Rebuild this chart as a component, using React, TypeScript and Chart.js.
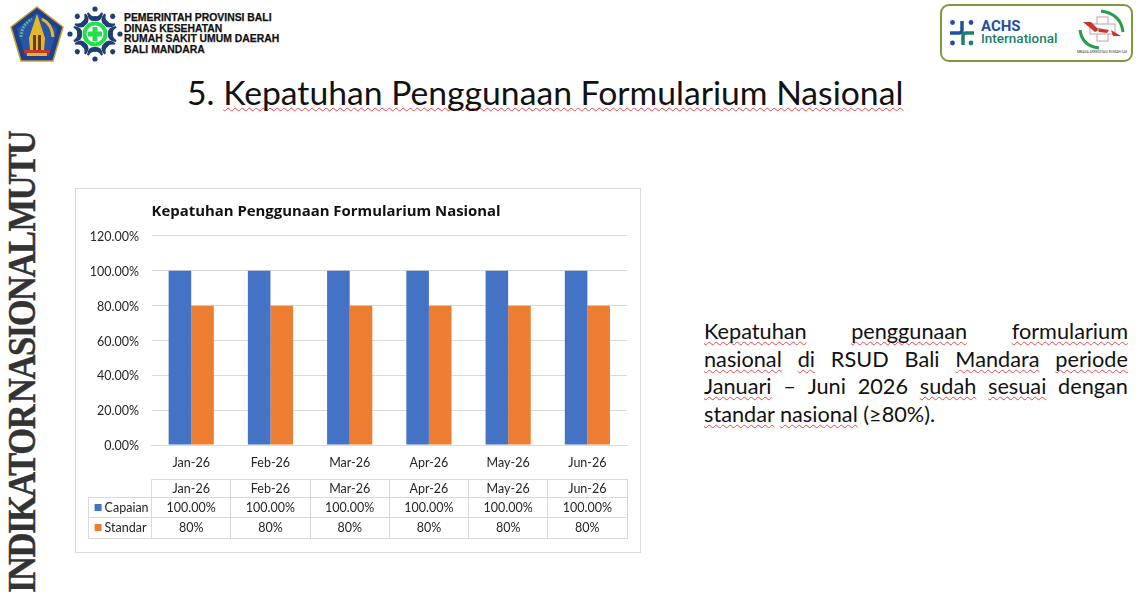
import React, { useEffect, useRef } from "react";
import { Chart, registerables } from "chart.js";

Chart.register(...registerables);

const categories = ["Jan-26", "Feb-26", "Mar-26", "Apr-26", "May-26", "Jun-26"];
const capaian = [100, 100, 100, 100, 100, 100];
const standar = [80, 80, 80, 80, 80, 80];
const capaianLabels = ["100.00%", "100.00%", "100.00%", "100.00%", "100.00%", "100.00%"];
const standarLabels = ["80%", "80%", "80%", "80%", "80%", "80%"];
const chartTitle = "Kepatuhan Penggunaan Formularium Nasional";
const slideTitle = "Kepatuhan Penggunaan Formularium Nasional";
const headerLines = ["PEMERINTAH PROVINSI BALI", "DINAS KESEHATAN", "RUMAH SAKIT UMUM DAERAH", "BALI MANDARA"];

const BLUE = "#4472C4";
const ORANGE = "#ED7D31";
const GRID = "#D9D9D9";
const TEXT = "#262626";
const FONT = "Lato, Carlito, sans-serif";

const dataTablePlugin = {
  id: "dataTable",
  afterDraw(chart: any) {
    const { ctx, chartArea, scales } = chart;
    const x = scales.x;
    const base = chartArea.bottom;
    const rows = [base + 34, base + 52, base + 72, base + 93];
    const labelLeft = chartArea.left - 63;
    const step = x.getPixelForTick(1) - x.getPixelForTick(0);
    const colEdges = categories.map((_, i) => x.getPixelForTick(i) - step / 2);
    colEdges.push(x.getPixelForTick(categories.length - 1) + step / 2);
    ctx.save();
    ctx.strokeStyle = GRID;
    ctx.lineWidth = 1;
    const line = (x1: number, y1: number, x2: number, y2: number) => {
      ctx.beginPath();
      ctx.moveTo(Math.floor(x1) + 0.5, Math.floor(y1) + 0.5);
      ctx.lineTo(Math.floor(x2) + 0.5, Math.floor(y2) + 0.5);
      ctx.stroke();
    };
    line(chartArea.left, rows[0], chartArea.right, rows[0]);
    for (let r = 1; r < rows.length; r++) line(labelLeft, rows[r], chartArea.right, rows[r]);
    line(labelLeft, rows[1], labelLeft, rows[3]);
    colEdges.forEach((e) => line(e, rows[0], e, rows[3]));

    ctx.font = `12.5px ${FONT}`;
    ctx.fillStyle = TEXT;
    ctx.textBaseline = "middle";
    ctx.textAlign = "center";
    const mid = (r: number) => (rows[r] + rows[r + 1]) / 2 + 0.5;
    categories.forEach((c, i) => {
      const cx = x.getPixelForTick(i);
      ctx.fillText(c, cx, mid(0));
      ctx.fillText(capaianLabels[i], cx, mid(1));
      ctx.fillText(standarLabels[i], cx, mid(2));
    });
    ctx.textAlign = "left";
    chart.data.datasets.forEach((ds: any, i: number) => {
      const y = mid(i + 1);
      ctx.fillStyle = ds.backgroundColor;
      ctx.fillRect(labelLeft + 6, Math.round(y) - 4, 7, 7);
      ctx.fillStyle = TEXT;
      ctx.fillText(ds.label, labelLeft + 16, y);
    });
    ctx.restore();
  },
};

const Wavy: React.FC<{ children: React.ReactNode }> = ({ children }) => (
  <span style={{ textDecoration: "underline wavy #E8484F 1px", textUnderlineOffset: 2, textDecorationSkipInk: "none" }}>
    {children}
  </span>
);

const justified: React.CSSProperties = { display: "flex", justifyContent: "space-between", height: 27.5, whiteSpace: "nowrap" };

const BaliEmblem = () => (
  <svg width="56" height="58" viewBox="0 0 56 58" style={{ position: "absolute", left: 9, top: 5, filter: "blur(0.4px)" }}>
    <polygon points="28,2 54,22 44,56 12,56 2,22" fill="#1F3F8F" stroke="#C9A227" strokeWidth="1.5" />
    <polygon points="28,8 48,24 40,51 16,51 8,24" fill="#2A54A8" />
    <polygon points="28,9 36,33 35,45 21,45 20,33" fill="#E3B92B" />
    <rect x="24" y="30" width="3" height="15" fill="#6B3A1A" />
    <rect x="29" y="30" width="3" height="15" fill="#6B3A1A" />
    <path d="M12 32 Q13 19 23 14" stroke="#4FB58A" strokeWidth="3" fill="none" strokeDasharray="2 1" />
    <path d="M44 32 Q43 19 33 14" stroke="#E3B92B" strokeWidth="3" fill="none" />
    <rect x="15" y="45" width="26" height="3" fill="#C8352B" />
    <rect x="18" y="48" width="20" height="3" fill="#E3B92B" />
  </svg>
);

const HospitalLogo = () => {
  const angles = [0, 45, 90, 135, 180, 225, 270, 315];
  return (
    <svg width="56" height="58" viewBox="-28 -29 56 58" style={{ position: "absolute", left: 67, top: 5, filter: "blur(0.3px)" }}>
      {angles.map((a) => (
        <g key={a} transform={`rotate(${a})`}>
          <circle cx="0" cy="-25" r="2.6" fill="#1F3F6F" />
          <path d="M-7 -21 Q-6 -13 0 -14 Q6 -13 7 -21 Q4 -16 0 -17 Q-4 -16 -7 -21Z" fill="#1F3F6F" stroke="#1F3F6F" strokeWidth="2" />
        </g>
      ))}
      <circle r="10.5" fill="#fff" stroke="#22E04A" strokeWidth="4" />
      <rect x="-7" y="-2.5" width="14" height="5" fill="#22E04A" />
      <rect x="-2.5" y="-7" width="5" height="14" fill="#22E04A" />
    </svg>
  );
};

const AchsLogo = () => (
  <div style={{ position: "absolute", left: 940, top: 4, width: 193, height: 58, boxSizing: "border-box", border: "2px solid #7E9A3C", borderRadius: 9, background: "#fff" }}>
    <svg width="26" height="28" viewBox="0 0 26 28" style={{ position: "absolute", left: 7, top: 13 }}>
      <circle cx="3.5" cy="3.5" r="2.4" fill="#1F4FA0" />
      <circle cx="22" cy="3.5" r="2.4" fill="#1F4FA0" />
      <circle cx="3.5" cy="24" r="2.4" fill="#1F4FA0" />
      <circle cx="22" cy="24" r="2.4" fill="#1E7F6A" />
      <path d="M1 14 H10 Q13 14 13 11 V2" stroke="#1F4FA0" strokeWidth="3.5" fill="none" />
      <path d="M25 14 H17 Q14 14 14 17 V26" stroke="#1E7F6A" strokeWidth="3.5" fill="none" />
    </svg>
    <div style={{ position: "absolute", left: 39, top: 13, fontFamily: "Roboto, sans-serif", fontWeight: 700, fontSize: 15, lineHeight: "15px", color: "#1F4FA0" }}>ACHS</div>
    <div style={{ position: "absolute", left: 39, top: 25, fontFamily: "Roboto, sans-serif", fontWeight: 500, fontSize: 13.5, lineHeight: "15px", color: "#1E7F6A" }}>International</div>
    <svg width="50" height="50" viewBox="0 0 50 50" style={{ position: "absolute", left: 135, top: 2 }}>
      <path d="M3 22 Q5 38 22 40" stroke="#2A9D4A" strokeWidth="3" fill="none" />
      <path d="M46 24 Q44 6 24 3" stroke="#2A9D4A" strokeWidth="3" fill="none" />
      <rect x="20" y="9" width="11" height="24" fill="#fff" stroke="#C8A0A0" strokeWidth="1" />
      <rect x="13" y="16" width="25" height="10" fill="#fff" stroke="#C8A0A0" strokeWidth="1" />
      <path d="M6 14 L18 24 L22 22 L14 14Z M20 20 L32 22 L30 25 L22 24Z M34 22 L44 28 L36 28Z" fill="#C8352B" />
      <text x="25" y="45" fontSize="3.4" textAnchor="middle" fill="#444" fontFamily="Roboto, sans-serif">LEMBAGA AKREDITASI RUMAH SAKIT</text>
    </svg>
  </div>
);

export default function App() {
  const ref = useRef<HTMLCanvasElement>(null);
  useEffect(() => {
    document.body.style.margin = "0";
    document.body.style.background = "#fff";
    const chart = new Chart(ref.current!, {
      type: "bar",
      data: {
        labels: categories,
        datasets: [
          { label: "Capaian", data: capaian, backgroundColor: BLUE, barPercentage: 1, categoryPercentage: 0.57 },
          { label: "Standar", data: standar, backgroundColor: ORANGE, barPercentage: 1, categoryPercentage: 0.57 },
        ],
      },
      options: {
        animation: false,
        responsive: false,
        devicePixelRatio: 1,
        layout: { padding: { top: 0, left: 0, right: 13, bottom: 7 } },
        plugins: {
          legend: { display: false },
          tooltip: { enabled: false },
          title: {
            display: true,
            text: chartTitle,
            align: "start",
            fullSize: false,
            color: "#111111",
            font: { family: "'Open Sans', sans-serif", size: 14.9, weight: "bold", lineHeight: 1.2 },
            padding: { top: 14, bottom: 15.1 },
          } as any,
        },
        scales: {
          x: {
            afterFit: (s: any) => { s.height = 100; },
            grid: { display: false },
            border: { color: GRID, width: 1 },
            ticks: { color: TEXT, font: { family: FONT, size: 12.5 }, padding: 2, maxRotation: 0 },
          },
          y: {
            min: 0,
            max: 120,
            afterFit: (s: any) => { s.width = 75.6; },
            grid: { color: GRID, drawTicks: false },
            border: { display: false },
            ticks: {
              stepSize: 20,
              color: TEXT,
              padding: 12.6,
              labelOffset: 1,
              font: { family: FONT, size: 12.5 },
              callback: (v: any) => Number(v).toFixed(2) + "%",
            },
          },
        },
      },
      plugins: [dataTablePlugin],
    });
    return () => chart.destroy();
  }, []);

  return (
    <div style={{ position: "relative", width: 1136, height: 602, overflow: "hidden", background: "#fff", fontFamily: FONT }}>
      <BaliEmblem />
      <HospitalLogo />
      <div style={{ position: "absolute", left: 124, top: 13, fontFamily: "'Liberation Sans', Arial, sans-serif", fontWeight: 700, fontSize: 10.4, lineHeight: "10.7px", color: "#111", whiteSpace: "nowrap", WebkitTextStroke: "0.25px #111" }}>
        {headerLines.map((l) => <div key={l}>{l}</div>)}
      </div>
      <AchsLogo />

      <div style={{ position: "absolute", left: 187, top: 70, fontSize: 33.7, lineHeight: "44px", color: "#111", whiteSpace: "nowrap" }}>
        5. <Wavy>{slideTitle}</Wavy>
      </div>

      <div style={{ position: "absolute", left: 5, top: 593, transformOrigin: "0 0", transform: "rotate(-90deg) scaleX(0.884)", fontFamily: "'Liberation Serif', serif", fontWeight: 700, fontSize: 39, lineHeight: "33px", letterSpacing: "-1.6px", wordSpacing: "-5px", color: "#333", whiteSpace: "nowrap", WebkitTextStroke: "0.4px #333" }}>
        INDIKATOR NASIONAL MUTU
      </div>

      <div style={{ position: "absolute", left: 75, top: 188, width: 566, height: 365, boxSizing: "border-box", border: `1px solid ${GRID}`, background: "#fff" }}>
        <canvas ref={ref} width={564} height={363} style={{ display: "block" }} />
      </div>

      <div style={{ position: "absolute", left: 704, top: 318, width: 424, fontSize: 21.7, lineHeight: "27.5px", color: "#111" }}>
        <div style={justified}><Wavy>Kepatuhan</Wavy><Wavy>penggunaan</Wavy><Wavy>formularium</Wavy></div>
        <div style={justified}><Wavy>nasional</Wavy><Wavy>di</Wavy><span>RSUD</span><span>Bali</span><Wavy>Mandara</Wavy><Wavy>periode</Wavy></div>
        <div style={justified}><Wavy>Januari</Wavy><span>–</span><span>Juni</span><span>2026</span><Wavy>sudah</Wavy><Wavy>sesuai</Wavy><span>dengan</span></div>
        <div style={{ height: 27.5, whiteSpace: "nowrap" }}><Wavy>standar</Wavy> <Wavy>nasional</Wavy> (≥80%).</div>
      </div>
    </div>
  );
}
